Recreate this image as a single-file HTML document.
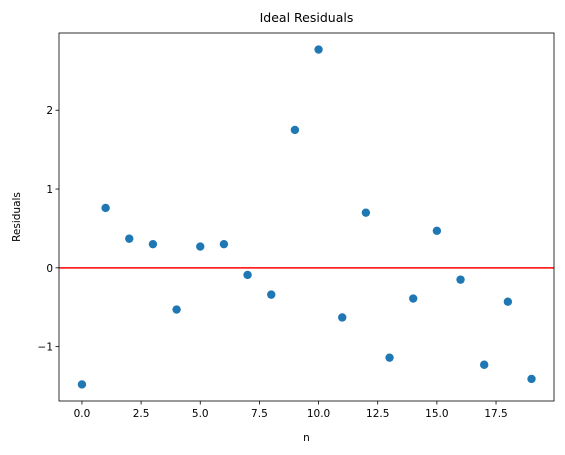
<!DOCTYPE html>
<html><head><meta charset="utf-8"><style>
html,body{margin:0;padding:0;background:#fff;}
svg{display:block;font-family:"DejaVu Sans","Liberation Sans",sans-serif;}
</style></head><body>
<svg id="chart" width="565" height="455" viewBox="0 0 565 455"></svg>
<script>
const nValues = [0,1,2,3,4,5,6,7,8,9,10,11,12,13,14,15,16,17,18,19];
const residuals = [-1.48,0.76,0.37,0.30,-0.53,0.27,0.30,-0.09,-0.34,1.75,2.77,-0.63,0.70,-1.14,-0.39,0.47,-0.15,-1.23,-0.43,-1.41];
const xTicks = [0,2.5,5,7.5,10,12.5,15,17.5];
const xTickLabels = ["0.0","2.5","5.0","7.5","10.0","12.5","15.0","17.5"];
const yTicks = [-1,0,1,2];
const yTickLabels = ["\u22121","0","1","2"];
const refLine = 0;

const L=59,R=554,T=33,B=401;
const xmin=-0.97,xmax=19.95;
const ymin=-1.69,ymax=2.98;
const sx=v=>L+(v-xmin)/(xmax-xmin)*(R-L);
const sy=v=>B-(v-ymin)/(ymax-ymin)*(B-T);
const svg=document.getElementById('chart');
const NS='http://www.w3.org/2000/svg';
function mk(tag,attrs,text){const e=document.createElementNS(NS,tag);for(const k in attrs)e.setAttribute(k,attrs[k]);if(text!==undefined)e.textContent=text;svg.appendChild(e);return e;}

let t=mk('text',{x:(L+R)/2,y:22,'text-anchor':'middle','font-size':12.5},'Ideal Residuals');



xTicks.forEach((v,i)=>{
  let l=mk('line',{x1:sx(v),x2:sx(v),y1:B,y2:B+3.5,stroke:'#000','stroke-width':0.8});
  
  
  let tx=mk('text',{x:sx(v),y:B+16,'text-anchor':'middle','font-size':10.5},xTickLabels[i]);
  
  
});
yTicks.forEach((v,i)=>{
  let l=mk('line',{x1:L-3.5,x2:L,y1:sy(v),y2:sy(v),stroke:'#000','stroke-width':0.8});
  
  
  let tx=mk('text',{x:L-6,y:sy(v)+4,'text-anchor':'end','font-size':10.5},yTickLabels[i]);
  
  
});
let xl=mk('text',{x:(L+R)/2,y:441,'text-anchor':'middle','font-size':10.5},'n');


let yl=mk('text',{x:20,y:(T+B)/2,'text-anchor':'middle','font-size':10.5,transform:`rotate(-90 20 ${(T+B)/2})`},'Residuals');



nValues.forEach((n,i)=>{
  let c=mk('circle',{cx:sx(n),cy:sy(residuals[i]),r:4.2,fill:'#1f77b4'});
  
  
});
let h=mk('line',{x1:L,x2:R,y1:sy(refLine),y2:sy(refLine),stroke:'#ff0000','stroke-width':1.5});


let fr=mk('rect',{x:L,y:T,width:R-L,height:B-T,fill:'none',stroke:'#000','stroke-width':0.8});


</script>
</body></html>
